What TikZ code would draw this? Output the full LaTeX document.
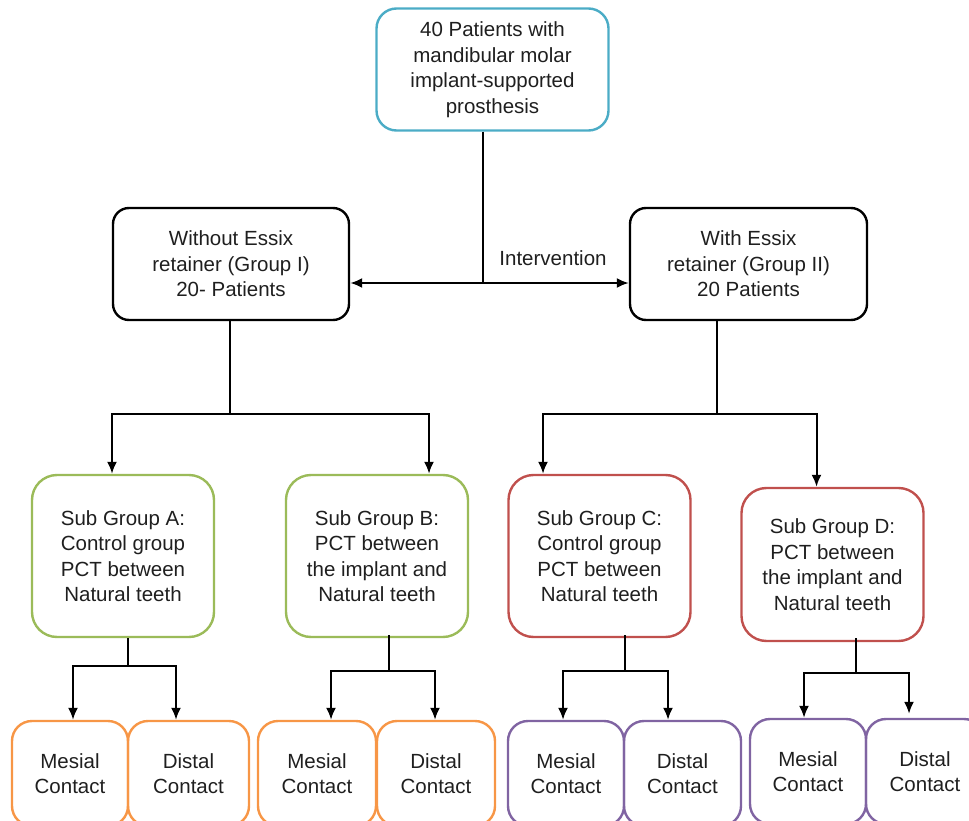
\documentclass[tikz,border=0pt]{standalone}
\usepackage{fontspec}
\setmainfont{Liberation Sans}
\usetikzlibrary{arrows.meta,positioning,calc}
\definecolor{boxcyan}{HTML}{4BACC6}
\definecolor{boxgreen}{HTML}{9BBB59}
\definecolor{boxred}{HTML}{C0504D}
\definecolor{boxorange}{HTML}{F79646}
\definecolor{boxpurple}{HTML}{8064A2}
\tikzstyle{box}=[draw,line width=2.4pt,rounded corners=20pt,align=center,inner sep=0pt,text=black!88,font=\fontsize{20.5}{25.5}\selectfont]
\tikzstyle{grp}=[box,rounded corners=16pt,minimum width=236pt,minimum height=112pt]
\tikzstyle{sub}=[box,rounded corners=25pt,minimum width=182pt]
\tikzstyle{leaf}=[box,minimum height=105pt]
\tikzstyle{conn}=[line width=2pt]
\tikzstyle{arr}=[conn,-{Latex[length=12pt,width=10pt]}]

\begin{document}
\begin{tikzpicture}[x=1pt,y=-1pt]
\useasboundingbox (0,0) rectangle (969,821);
% top and groups
\node [box, draw=boxcyan, minimum width=232pt, minimum height=122pt] (top) at (492.5,69.5) {40 Patients with\\mandibular molar\\implant-supported\\prosthesis};
\node [grp] (g1) at (231,264) {Without Essix\\retainer (Group I)\\20- Patients};
\node [grp, minimum width=237pt] (g2) at (748.5,264) {With Essix\\retainer (Group II)\\20 Patients};
% sub groups
\node [sub, draw=boxgreen, minimum height=162pt] (sa) at (123,556) {Sub Group A:\\Control group\\PCT between\\Natural teeth};
\node [sub, draw=boxgreen, minimum height=162pt] (sb) at (377,556) {Sub Group B:\\PCT between\\the implant and\\Natural teeth};
\node [sub, draw=boxred, minimum height=162pt] (sc) at (599.5,556) {Sub Group C:\\Control group\\PCT between\\Natural teeth};
\node [sub, draw=boxred, minimum height=153pt] (sd) at (832.5,564.5) {Sub Group D:\\PCT between\\the implant and\\Natural teeth};
% contacts
\node [leaf, draw=boxorange, minimum width=116pt] (ma) at (70,773.5) {Mesial\\Contact};
\node [leaf, draw=boxorange, minimum width=121pt] (da) at (188.5,773.5) {Distal\\Contact};
\node [leaf, draw=boxorange, minimum width=118pt] (mb) at (317,773.5) {Mesial\\Contact};
\node [leaf, draw=boxorange, minimum width=118pt] (db) at (436,773.5) {Distal\\Contact};
\node [leaf, draw=boxpurple, minimum width=116pt] (mc) at (566,773.5) {Mesial\\Contact};
\node [leaf, draw=boxpurple, minimum width=117pt] (dc) at (682.5,773.5) {Distal\\Contact};
\node [leaf, draw=boxpurple, minimum width=116pt] (md) at (808,771.5) {Mesial\\Contact};
\node [leaf, draw=boxpurple, minimum width=118pt] (dd) at (925,771.5) {Distal\\Contact};
% connectors
\coordinate (j0) at (483,283);
\draw [conn] (top.south -| j0) -- (j0);
\draw [arr, {Latex[length=12pt,width=10pt]}-{Latex[length=12pt,width=10pt]}] (g1.east |- j0) -- (g2.west |- j0);
\node [text=black!88, font=\fontsize{20.5}{25.5}\selectfont] (iv) at (553,258) {Intervention};
\coordinate (j1) at (230,414);
\draw [conn] (g1.south -| j1) -- (j1);
\draw [arr] (j1) -| ([xshift=-11pt]sa.north);
\draw [arr] (j1) -| ([xshift=52pt]sb.north);
\coordinate (j2) at (717,414);
\draw [conn] (g2.south -| j2) -- (j2);
\draw [arr] (j2) -| ([xshift=-56.5pt]sc.north);
\draw [arr] (j2) -| ([xshift=-16pt]sd.north);
\coordinate (ka) at (128,666);
\draw [conn] (sa.south -| ka) -- (ka);
\draw [arr] (ka) -| ([xshift=3pt]ma.north);
\draw [arr] (ka) -| ([xshift=-12.5pt]da.north);
\coordinate (kb) at (389,671);
\draw [conn] ([yshift=3pt]sb.south -| kb) -- (kb);
\draw [arr] (kb) -| ([xshift=14pt]mb.north);
\draw [arr] (kb) -| ([xshift=-1pt]db.north);
\coordinate (kc) at (625,671);
\draw [conn] ([yshift=3pt]sc.south -| kc) -- (kc);
\draw [arr] (kc) -| ([xshift=-3pt]mc.north);
\draw [arr] (kc) -| ([xshift=-14.5pt]dc.north);
\coordinate (kd) at (856,673);
\draw [conn] ([yshift=4pt]sd.south -| kd) -- (kd);
\draw [arr] (kd) -| ([xshift=-4pt]md.north);
\draw [arr] (kd) -| ([xshift=-16pt,yshift=4pt]dd.north);
\end{tikzpicture}
\end{document}
